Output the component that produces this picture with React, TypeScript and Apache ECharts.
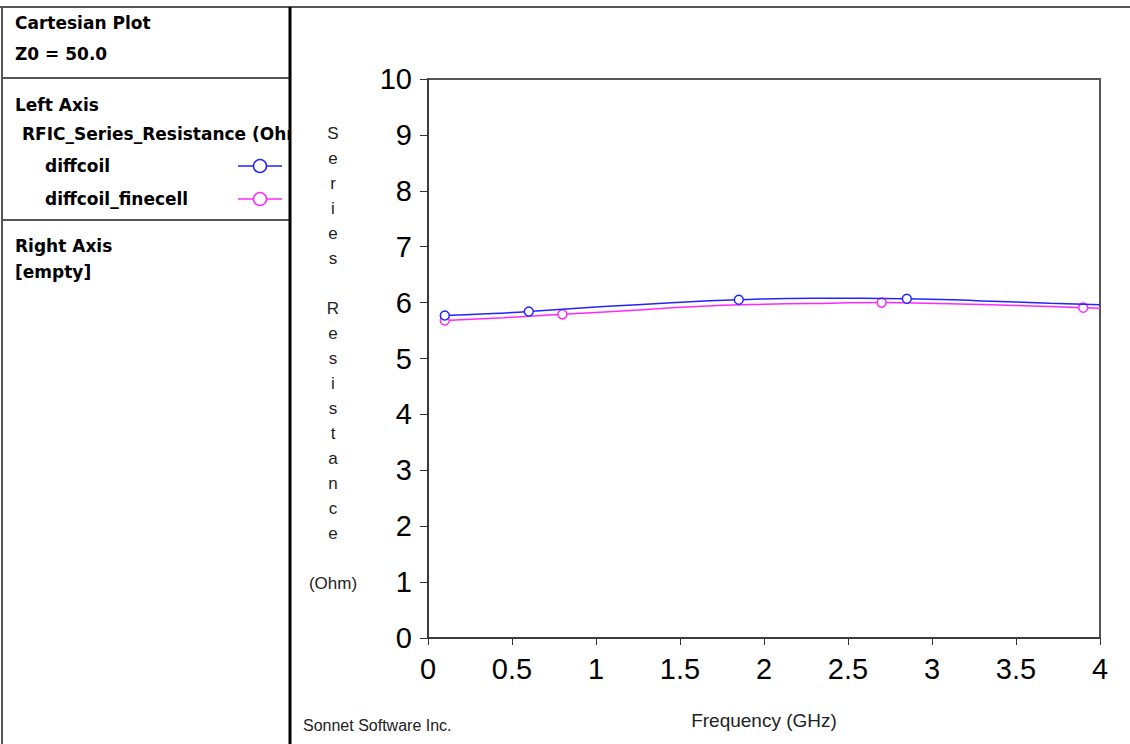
import React, { useEffect, useRef } from "react";
import * as echarts from "echarts";

const xTicks = ["0", "0.5", "1", "1.5", "2", "2.5", "3", "3.5", "4"];
const yTicks = ["0", "1", "2", "3", "4", "5", "6", "7", "8", "9", "10"];

const diffcoilFreq = [0.1, 0.35, 0.6, 1.0, 1.4, 1.85, 2.3, 2.85, 3.3, 3.7, 4.0];
const diffcoilRes = [5.77, 5.8, 5.84, 5.92, 5.99, 6.05, 6.08, 6.07, 6.03, 5.99, 5.96];
const diffcoilMarkers = [0.1, 0.6, 1.85, 2.85];

const finecellFreq = [0.1, 0.45, 0.8, 1.2, 1.6, 2.0, 2.4, 2.7, 3.1, 3.5, 3.9, 4.0];
const finecellRes = [5.68, 5.73, 5.79, 5.86, 5.93, 5.97, 5.99, 6.0, 5.98, 5.95, 5.91, 5.9];
const finecellMarkers = [0.1, 0.8, 2.7, 3.9];

const seriesNames = ["diffcoil", "diffcoil_finecell"];
const seriesColors = ["#2323ff", "#ff28ff"];

const yAxisTitle = "Series Resistance";
const yAxisUnit = "(Ohm)";
const xAxisTitle = "Frequency (GHz)";

function buildData(freq: number[], res: number[], markers: number[]) {
  return freq.map((f, i) => ({
    value: [f, res[i]],
    symbol: markers.includes(f) ? "circle" : "none",
  }));
}

export default function App() {
  const ref = useRef<HTMLDivElement>(null);

  useEffect(() => {
    if (!ref.current) return;
    const chart = echarts.init(ref.current, null, { renderer: "svg" });

    const stackedName =
      yAxisTitle
        .split(" ")
        .map((w) => w.split("").join("\n"))
        .join("\n\n") +
      "\n\n" +
      yAxisUnit;

    const bold = {
      fontFamily: "DejaVu Sans",
      fontWeight: "bold" as const,
      fontSize: 17,
      fill: "#000",
      verticalAlign: "middle" as const,
      align: "left" as const,
    };

    const panelText = (text: string, x: number, y: number) => ({
      type: "text",
      x,
      y,
      style: { ...bold, text },
      z: 10,
    });

    const lineEl = (x1: number, y1: number, x2: number, y2: number, w: number, c: string) => ({
      type: "line",
      shape: { x1, y1, x2, y2 },
      style: { stroke: c, lineWidth: w },
      z: 12,
    });

    const legendSym = (y: number, color: string) => [
      {
        type: "line",
        shape: { x1: 238, y1: y, x2: 282, y2: y },
        style: { stroke: color, lineWidth: 1.5 },
        z: 11,
      },
      {
        type: "circle",
        shape: { cx: 260, cy: y, r: 6.5 },
        style: { fill: "#fff", stroke: color, lineWidth: 1.5 },
        z: 11,
      },
    ];

    chart.setOption({
      animation: false,
      backgroundColor: "#fff",
      grid: {
        left: 428,
        top: 79,
        right: 30,
        bottom: 106,
        show: true,
        borderColor: "#555",
        borderWidth: 2,
      },
      xAxis: {
        type: "value",
        min: 0,
        max: 4,
        interval: 0.5,
        axisLine: { show: true, lineStyle: { color: "#333", width: 1.5 } },
        axisTick: { show: true, inside: false, length: 7, lineStyle: { color: "#333" } },
        splitLine: { show: false },
        axisLabel: {
          fontFamily: "Liberation Sans",
          fontSize: 29,
          color: "#000",
          margin: 16,
          lineHeight: 29,
          formatter: (v: number) => {
            const i = Math.round(v / 0.5);
            return xTicks[i] ?? String(v);
          },
        },
      },
      yAxis: {
        type: "value",
        min: 0,
        max: 10,
        interval: 1,
        axisLine: { show: true, lineStyle: { color: "#333", width: 1.5 } },
        axisTick: { show: true, inside: false, length: 8, lineStyle: { color: "#333" } },
        splitLine: { show: false },
        axisLabel: {
          fontFamily: "Liberation Sans",
          fontSize: 29,
          color: "#000",
          margin: 16,
          formatter: (v: number) => yTicks[Math.round(v)] ?? String(v),
        },
      },
      series: [
        {
          name: seriesNames[0],
          type: "line",
          smooth: true,
          showSymbol: true,
          symbolSize: 9,
          data: buildData(diffcoilFreq, diffcoilRes, diffcoilMarkers),
          lineStyle: { color: seriesColors[0], width: 1.5 },
          itemStyle: { color: "#fff", borderColor: seriesColors[0], borderWidth: 1.5 },
          z: 3,
        },
        {
          name: seriesNames[1],
          type: "line",
          smooth: true,
          showSymbol: true,
          symbolSize: 9,
          data: buildData(finecellFreq, finecellRes, finecellMarkers),
          lineStyle: { color: seriesColors[1], width: 1.5 },
          itemStyle: { color: "#fff", borderColor: seriesColors[1], borderWidth: 1.5 },
          z: 2,
        },
      ],
      graphic: [
        lineEl(0, 7, 1130, 7, 2, "#555"),
        lineEl(2, 7, 2, 744, 2, "#555"),
        lineEl(2, 78, 290, 78, 2, "#555"),
        lineEl(2, 220, 290, 220, 2, "#555"),
        panelText("Cartesian Plot", 15, 23),
        panelText("Z0 = 50.0", 15, 54),
        panelText("Left Axis", 15, 105),
        panelText("RFIC_Series_Resistance (Ohm)", 22, 134),
        panelText(seriesNames[0], 45, 166),
        panelText(seriesNames[1], 45, 199),
        panelText("Right Axis", 15, 246),
        panelText("[empty]", 15, 272),
        {
          type: "rect",
          shape: { x: 291, y: 122, width: 32, height: 26 },
          style: { fill: "#fff" },
          z: 11,
        },
        ...legendSym(166, seriesColors[0]),
        ...legendSym(199, seriesColors[1]),
        lineEl(290, 7, 290, 744, 3, "#000"),
        {
          type: "text",
          x: 333,
          y: 358,
          style: {
            text: stackedName,
            fontFamily: "Liberation Sans",
            fontSize: 17,
            lineHeight: 25,
            fill: "#222",
            align: "center",
            verticalAlign: "middle",
          },
        },
        {
          type: "text",
          x: 764,
          y: 720,
          style: {
            text: xAxisTitle,
            fontFamily: "Liberation Sans",
            fontSize: 19,
            fill: "#222",
            align: "center",
            verticalAlign: "middle",
          },
        },
        {
          type: "text",
          x: 303,
          y: 725,
          style: {
            text: "Sonnet Software Inc.",
            fontFamily: "Liberation Sans",
            fontSize: 16,
            fill: "#222",
            align: "left",
            verticalAlign: "middle",
          },
        },
      ],
    });

    return () => chart.dispose();
  }, []);

  return (
    <div
      ref={ref}
      style={{ position: "absolute", left: 0, top: 0, width: 1130, height: 744 }}
    />
  );
}
